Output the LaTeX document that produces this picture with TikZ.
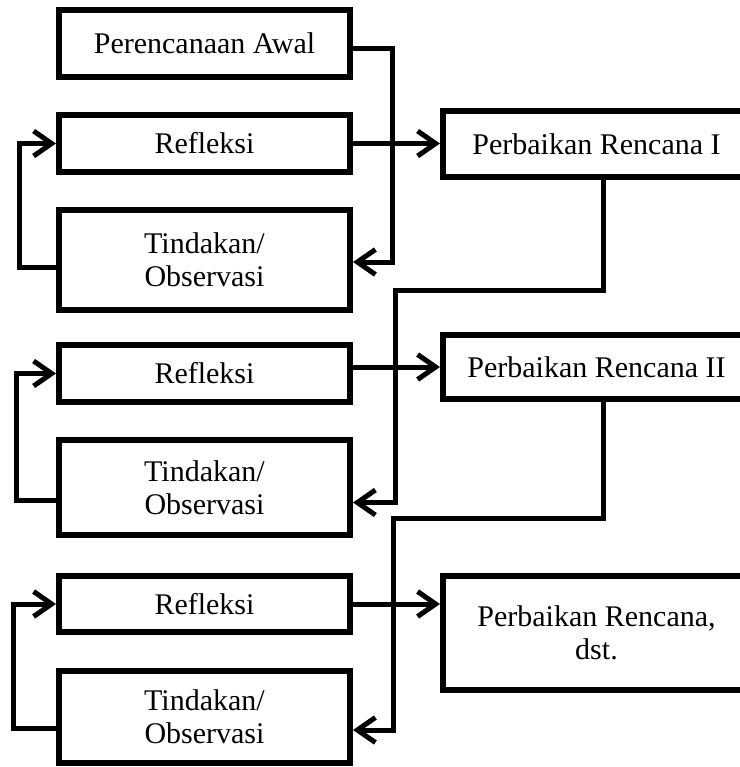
\documentclass[tikz,border=0pt]{standalone}
\usepackage{fontspec}
\setmainfont{Liberation Serif}
\usetikzlibrary{arrows.meta}

\begin{document}
\begin{tikzpicture}
  [x=0.5pt,y=-0.5pt,
   every node/.style={draw,line width=3pt,rectangle,align=center,inner sep=0pt,
     font=\fontsize{15}{16.5}\selectfont},
   kiri/.style={minimum width=145.5pt},
   kanan/.style={minimum width=153.5pt},
   garis/.style={line width=2.5pt},
   panah/.style={line width=2.5pt,-{Straight Barb[length=9pt,width=12.5pt]}}]
  \useasboundingbox (0,0) rectangle (740,767);
  \clip (0,0) rectangle (740,767);

  \node[kiri,minimum height=33.5pt] (awal) at (204.5,43.5) {Perencanaan Awal};
  \node[kiri,minimum height=28.5pt] (ref1) at (204.5,143.5) {Refleksi};
  \node[kiri,minimum height=50pt] (tin1) at (204.5,260) {Tindakan/\\Observasi};
  \node[kiri,minimum height=28.5pt] (ref2) at (204.5,373.5) {Refleksi};
  \node[kiri,minimum height=47.5pt] (tin2) at (204.5,487.5) {Tindakan/\\Observasi};
  \node[kiri,minimum height=28pt] (ref3) at (204.5,604) {Refleksi};
  \node[kiri,minimum height=46pt] (tin3) at (204.5,717) {Tindakan/\\Observasi};

  \node[kanan,minimum height=33pt] (per1) at (596.5,144) {Perbaikan Rencana I};
  \node[kanan,minimum height=32pt] (per2) at (596.5,367) {Perbaikan Rencana II};
  \node[kanan,minimum height=57pt] (per3) at (596.5,633) {Perbaikan Rencana,\\dst.};

  \coordinate (c0) at (392,100);
  \coordinate (c1) at (395,290);
  \coordinate (c2) at (393,518);

  % putaran tindakan ke refleksi
  \foreach \t/\r/\s/\d in {tin1/ref1/-3.5pt/37,tin2/ref2/-6.5pt/40,tin3/ref3/-5.5pt/43}
    \draw[panah] ([yshift=\s]\t.west) -- ++(-\d,0) |- (\r.west);

  \draw[panah] ([yshift=-2.5pt]awal.east) -| (c0) |- ([yshift=-1pt]tin1.east);
  \draw[panah] ([xshift=3.5pt]per1.south) |- (c1) |- ([yshift=-7.5pt]tin2.east);
  \draw[panah] ([xshift=3.5pt]per2.south) |- (c2) |- ([yshift=-6.5pt]tin3.east);

  \draw[panah] (ref1.east) -- (ref1.east -| per1.west);
  \draw[panah] (ref2.east |- per2.west) -- (per2.west);
  \draw[panah] (ref3.east) -- (ref3.east -| per3.west);

\end{tikzpicture}
\end{document}
